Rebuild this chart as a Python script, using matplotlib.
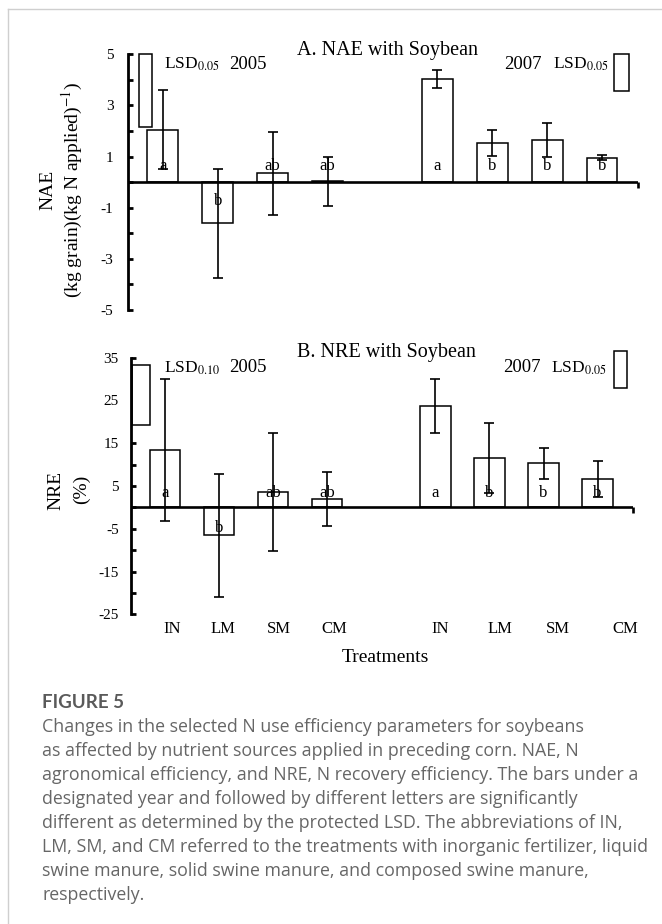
import matplotlib
matplotlib.use('Agg')
import matplotlib.pyplot as plt
from matplotlib.patches import Rectangle
from matplotlib.lines import Line2D
from matplotlib.markers import TICKDOWN

plt.rcParams['font.family'] = ['Liberation Serif', 'DejaVu Serif']
plt.rcParams['mathtext.fontset'] = 'stix'
plt.rcParams['axes.unicode_minus'] = False

# ---------------- data ----------------
treatments = ['IN', 'LM', 'SM', 'CM']
years = ['2005', '2007']

nae_2005 = [2.05, -1.60, 0.34, 0.04]
nae_2005_err = [1.55, 2.13, 1.61, 0.96]
nae_2007 = [4.03, 1.52, 1.65, 0.96]
nae_2007_err = [0.34, 0.51, 0.66, 0.10]
nae_letters_2005 = ['a', 'b', 'ab', 'ab']
nae_letters_2007 = ['a', 'b', 'b', 'b']
nae_lsd = [2.83, 1.44]
nae_lsd_labels = ['LSD$_{0.05}$', 'LSD$_{0.05}$']
nae_yticks = [5, 3, 1, -1, -3, -5]

nre_2005 = [13.4, -6.55, 3.65, 1.9]
nre_2005_err = [16.55, 14.4, 13.75, 6.3]
nre_2007 = [23.75, 11.5, 10.35, 6.7]
nre_2007_err = [6.3, 8.25, 3.65, 4.2]
nre_letters_2005 = ['a', 'b', 'ab', 'ab']
nre_letters_2007 = ['a', 'b', 'b', 'b']
nre_lsd = [14.1, 8.5]
nre_lsd_labels = ['LSD$_{0.10}$', 'LSD$_{0.05}$']
nre_yticks = [35, 25, 15, 5, -5, -15, -25]

caption_title = 'FIGURE 5'
caption_lines = [
    "Changes in the selected N use efficiency parameters for soybeans",
    "as affected by nutrient sources applied in preceding corn. NAE, N",
    "agronomical efficiency, and NRE, N recovery efficiency. The bars under a",
    "designated year and followed by different letters are significantly",
    "different as determined by the protected LSD. The abbreviations of IN,",
    "LM, SM, and CM referred to the treatments with inorganic fertilizer, liquid",
    "swine manure, solid swine manure, and composed swine manure,",
    "respectively.",
]

# ---------------- layout ----------------
W, H = 662, 924
fig = plt.figure(figsize=(W / 100, H / 100), dpi=100)

x2005 = [1, 2, 3, 4]
x2007 = [6, 7, 8, 9]
XLIM = (0.365, 9.655)
BW = 0.56


def px_axes(left, top, right, bottom):
    return fig.add_axes([left / W, 1 - bottom / H, (right - left) / W, (bottom - top) / H])


def panel(ax, v05, e05, v07, e07, l05, l07, lsd, lsd_labels, yticks, step,
          title, lsd_boxes, letter_pos, letter_neg, txt_y, title_y, pad, lsd_x):
    ax.set_xlim(*XLIM)
    ax.set_ylim(min(yticks), max(yticks))
    kw = dict(width=BW, color='white', edgecolor='black', linewidth=1.1, zorder=2)
    ax.bar(x2005, v05, **kw)
    ax.bar(x2007, v07, **kw)
    ekw = dict(fmt='none', ecolor='black', elinewidth=1.2, capsize=3.6, capthick=1.2, zorder=3)
    ax.errorbar(x2005, v05, yerr=e05, **ekw)
    ax.errorbar(x2007, v07, yerr=e07, **ekw)
    for xs, vs, ls in ((x2005, v05, l05), (x2007, v07, l07)):
        for x, v, l in zip(xs, vs, ls):
            ax.text(x, letter_pos if v >= 0 else letter_neg, l, ha='center', va='center',
                    fontsize=12, zorder=4)
    # zero line
    ax.axhline(0, color='black', lw=1.9, zorder=3)
    ax.plot([XLIM[1]], [0], marker=TICKDOWN, ms=4, mew=1.9, color='black', clip_on=False, zorder=4)
    # LSD boxes
    for (x0, x1, top), d in zip(lsd_boxes, lsd):
        ax.add_patch(Rectangle((x0, top - d), x1 - x0, d, facecolor='white', edgecolor='black',
                               lw=1.1, clip_on=False, zorder=2))
    # texts
    ax.text(lsd_x[0], txt_y, lsd_labels[0], fontsize=12.5, ha='left', va='center')
    ax.text(lsd_x[1], txt_y, years[0], fontsize=13.5, ha='left', va='center')
    ax.text(lsd_x[2], txt_y, years[1], fontsize=13.5, ha='left', va='center')
    ax.text(lsd_x[3], txt_y, lsd_labels[1], fontsize=12.5, ha='left', va='center')
    ax.text(5.09, title_y, title, fontsize=14.5, ha='center', va='center', clip_on=False)
    # axes styling
    for s in ('top', 'right', 'bottom'):
        ax.spines[s].set_visible(False)
    ax.spines['left'].set_linewidth(2.0)
    ax.set_yticks(yticks)
    ax.set_yticks([t + step for t in yticks[1:]], minor=True)
    ax.tick_params(axis='y', which='both', direction='in', length=3.5, width=2.0,
                   labelsize=11, pad=pad)
    ax.set_xticks([])


ax1 = px_axes(128, 54.3, 638, 310)
panel(ax1, nae_2005, nae_2005_err, nae_2007, nae_2007_err, nae_letters_2005, nae_letters_2007,
      nae_lsd, nae_lsd_labels, nae_yticks, 1, 'A. NAE with Soybean',
      [(0.563, 0.80, 5.0), (9.215, 9.488, 5.0)], 0.63, -0.72, 4.6, 5.15, 10.5,
      [1.02, 2.20, 7.21, 8.10])

ax2 = px_axes(130.7, 357.7, 633, 614.3)
panel(ax2, nre_2005, nre_2005_err, nre_2007, nre_2007_err, nre_letters_2005, nre_letters_2007,
      nre_lsd, nre_lsd_labels, nre_yticks, 5, 'B. NRE with Soybean',
      [(0.395, 0.728, 33.4), (9.311, 9.54, 36.5)], 3.4, -4.8, 32.6, 36.3, 8.5,
      [0.98, 2.18, 7.25, 8.14])

# x tick labels (slightly offset to the right, as in the original)
label_x = [1.124, 2.073, 3.103, 4.125, 6.096, 7.197, 8.27, 9.51]
for x, t in zip(label_x, treatments + treatments):
    ax2.text(x, -28.4, t, ha='center', va='center', fontsize=12, clip_on=False)
ax2.text(5.07, -35.2, 'Treatments', ha='center', va='center', fontsize=14, clip_on=False)

# y labels
fig.text(48 / W, 1 - 190 / H, 'NAE', rotation=90, ha='center', va='center', fontsize=14)
fig.text(72 / W, 1 - 190 / H, '(kg grain)(kg N applied)$^{-1}$)', rotation=90,
         ha='center', va='center', fontsize=14)
fig.text(55.7 / W, 1 - 490 / H, 'NRE', rotation=90, ha='center', va='center', fontsize=14)
fig.text(81.7 / W, 1 - 489 / H, '(%)', rotation=90, ha='center', va='center', fontsize=14)

# border lines
fig.add_artist(Line2D([8 / W, 8 / W], [0, 1 - 9 / H], color='#cfcfcf', lw=1.0))
fig.add_artist(Line2D([8 / W, 1], [1 - 9 / H, 1 - 9 / H], color='#cfcfcf', lw=1.0))

# caption
fig.text(42 / W, 1 - 707.7 / H, caption_title, family=['Lato', 'DejaVu Sans'], fontsize=13.5,
         fontweight='bold', color='#5a5a5a', ha='left', va='baseline')
for i, line in enumerate(caption_lines):
    fig.text(42 / W, 1 - (732 + 24 * i) / H, line, family=['Open Sans', 'DejaVu Sans'],
             fontsize=12.8, color='#666666', ha='left', va='baseline')

fig.savefig('out.png', dpi=100)
